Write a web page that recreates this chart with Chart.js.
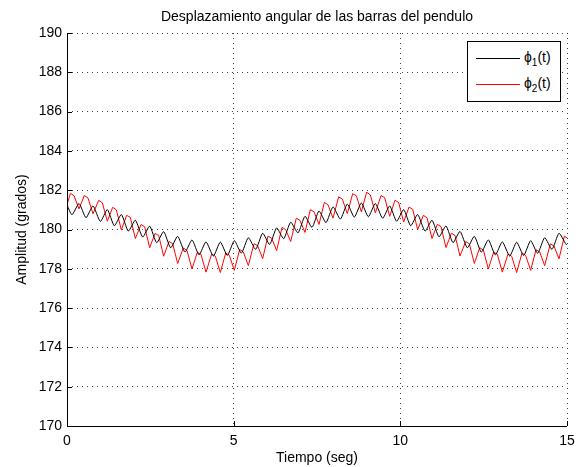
<!DOCTYPE html>
<html>
<head>
<meta charset="utf-8">
<script src="https://cdn.jsdelivr.net/npm/chart.js@4"></script>
<style>
  body { margin: 0; background: #fff; }
  #wrap { position: relative; width: 582px; height: 467px; }
  #legend { position: absolute; left: 467px; top: 41px; width: 92px; height: 59px;
            border: 1px solid #000; background: #fff;
            font: 14px "Liberation Sans", Arial, sans-serif; color: #000; }
  .row { position: absolute; left: 8px; height: 20px; display: flex; align-items: center; white-space: nowrap; }
  .row .ln { display: inline-block; width: 44px; border-top: 1px solid; margin-right: 4px; }
  sub { font-size: 10px; vertical-align: -4px; }
</style>
</head>
<body>
<div id="wrap">
  <canvas id="chart" width="582" height="467"></canvas>
  <div id="legend"></div>
</div>
<script>
// time (s) and angle (deg)
const t1 = [0, 0.15, 0.36, 0.57, 0.78, 1.00, 1.21, 1.42, 1.63, 1.84, 2.05, 2.27, 2.48, 2.69, 2.90,
  3.11, 3.32, 3.54, 3.75, 3.96, 4.17, 4.39, 4.60, 4.81, 5.02, 5.23, 5.44, 5.66, 5.87, 6.08, 6.29,
  6.50, 6.71, 6.93, 7.14, 7.35, 7.56, 7.77, 7.98, 8.20, 8.41, 8.62, 8.83, 9.04, 9.25, 9.47, 9.68,
  9.89, 10.10, 10.31, 10.52, 10.74, 10.95, 11.16, 11.37, 11.58, 11.79, 12.01, 12.22, 12.43, 12.64,
  12.85, 13.06, 13.28, 13.49, 13.70, 13.91, 14.12, 14.33, 14.55, 14.76, 14.97, 15.00];
const phi1 = [181.25, 180.75, 181.32, 180.60, 181.20, 180.41, 181.01, 180.19, 180.76, 179.92, 180.47,
  179.62, 180.17, 179.33, 179.89, 179.07, 179.65, 178.85, 179.47, 178.71, 179.37, 178.65, 179.36,
  178.68, 179.43, 178.80, 179.58, 178.99, 179.81, 179.24, 180.08, 179.53, 180.37, 179.83, 180.67,
  180.11, 180.94, 180.35, 181.15, 180.53, 181.29, 180.63, 181.35, 180.65, 181.32, 180.57, 181.20,
  180.42, 181.01, 180.19, 180.76, 179.92, 180.47, 179.63, 180.18, 179.33, 179.90, 179.07, 179.65,
  178.85, 179.47, 178.71, 179.37, 178.65, 179.35, 178.68, 179.43, 178.79, 179.58, 178.99, 179.81,
  179.24, 179.25];

const t2 = [0, 0.10, 0.21, 0.36, 0.52, 0.63, 0.78, 0.95, 1.06, 1.21, 1.37, 1.48, 1.63, 1.79, 1.90, 2.05,
  2.22, 2.33, 2.48, 2.64, 2.75, 2.90, 3.06, 3.17, 3.32, 3.49, 3.60, 3.75, 3.91, 4.02, 4.17,
  4.34, 4.45, 4.60, 4.76, 4.87, 5.02, 5.18, 5.29, 5.44, 5.61, 5.72, 5.87, 6.03, 6.14, 6.29,
  6.45, 6.56, 6.71, 6.88, 6.99, 7.14, 7.30, 7.41, 7.56, 7.72, 7.83, 7.98, 8.15, 8.26, 8.41,
  8.57, 8.68, 8.83, 8.99, 9.10, 9.25, 9.42, 9.53, 9.68, 9.84, 9.95, 10.10, 10.26, 10.37, 10.52,
  10.69, 10.80, 10.95, 11.11, 11.22, 11.37, 11.53, 11.64, 11.79, 11.96, 12.07, 12.22,
  12.38, 12.49, 12.64, 12.80, 12.91, 13.06, 13.23, 13.34, 13.49, 13.65, 13.76, 13.91,
  14.07, 14.18, 14.33, 14.50, 14.61, 14.76, 14.92, 15.00];
const phi2 = [181.25, 181.84, 181.72, 181.05, 181.73, 181.60, 180.80, 181.48, 181.36, 180.42,
  181.13, 181.00, 179.98, 180.72, 180.62, 179.54, 180.25, 180.14, 179.07, 179.80, 179.70, 178.64,
  179.39, 179.28, 178.27, 179.06, 178.93, 177.99, 178.84, 178.73, 177.83, 178.75, 178.64, 177.81,
  178.80, 178.69, 177.92, 178.98, 178.86, 178.16, 179.28, 179.17, 178.52, 179.67, 179.55, 178.93,
  180.11, 180.00, 179.39, 180.58, 180.46, 179.85, 181.01, 180.90, 180.26, 181.38, 181.26, 180.58,
  181.66, 181.55, 180.81, 181.82, 181.72, 180.90, 181.90, 181.76, 180.85, 181.73, 181.62, 180.67,
  181.49, 181.37, 180.38, 181.14, 181.03, 179.99, 180.72, 180.60, 179.54, 180.26, 180.15, 179.08,
  179.81, 179.70, 178.65, 179.39, 179.27, 178.27, 179.07, 178.96, 177.99, 178.85, 178.74, 177.83,
  178.75, 178.64, 177.81, 178.80, 178.68, 177.92, 178.97, 178.86, 178.16, 179.27, 179.16, 178.51,
  179.66, 179.58];

const xTicks = [0, 5, 10, 15];
const yTicks = [170, 172, 174, 176, 178, 180, 182, 184, 186, 188, 190];
const seriesNames = ['\u03d5<sub>1</sub>(t)', '\u03d5<sub>2</sub>(t)'];
const seriesColors = ['#000000', '#ff0000'];

const FONT = '"Liberation Sans", Arial, sans-serif';

// MATLAB-ish frame: solid left/bottom axes, inward ticks, title over the axes
const frame = {
  id: 'frame',
  afterDraw(chart) {
    const { ctx, chartArea: a, scales } = chart;
    ctx.save();
    ctx.strokeStyle = '#000';
    ctx.lineWidth = 1;
    ctx.beginPath();
    ctx.moveTo(a.left + 0.5, a.top);
    ctx.lineTo(a.left + 0.5, a.bottom + 0.5);
    ctx.lineTo(a.right, a.bottom + 0.5);
    yTicks.forEach(v => {
      const y = Math.round(scales.y.getPixelForValue(v)) + 0.5;
      ctx.moveTo(a.left, y);
      ctx.lineTo(a.left + 5, y);
    });
    xTicks.forEach(v => {
      const x = Math.round(scales.x.getPixelForValue(v)) + 0.5;
      ctx.moveTo(x, a.bottom);
      ctx.lineTo(x, a.bottom - 5);
    });
    ctx.stroke();
    ctx.fillStyle = '#000';
    ctx.font = '14px ' + FONT;
    ctx.textAlign = 'center';
    ctx.textBaseline = 'middle';
    ctx.fillText('Desplazamiento angular de las barras del pendulo', (a.left + a.right) / 2, 17);
    ctx.restore();
  }
};

const gridOpts = { color: 'rgba(0,0,0,0.75)', drawTicks: false, lineWidth: 1 };

new Chart(document.getElementById('chart'), {
  type: 'line',
  data: {
    datasets: [
      { label: 'phi1', data: t1.map((t, i) => ({ x: t, y: phi1[i] })),
        borderColor: seriesColors[0], borderWidth: 1, pointRadius: 0, tension: 0.2 },
      { label: 'phi2', data: t2.map((t, i) => ({ x: t, y: phi2[i] })),
        borderColor: seriesColors[1], borderWidth: 1, pointRadius: 0, tension: 0 }
    ]
  },
  options: {
    responsive: false,
    animation: false,
    layout: { padding: { top: 33, right: 15, left: 0, bottom: 0 } },
    plugins: { legend: { display: false }, title: { display: false }, tooltip: { enabled: false } },
    scales: {
      x: {
        type: 'linear', min: 0, max: 15,
        afterBuildTicks: s => { s.ticks = xTicks.map(v => ({ value: v })); },
        afterFit: s => { s.height = 41; },
        grid: gridOpts,
        border: { display: false, dash: [1, 4] },
        ticks: { color: '#000', font: { family: FONT, size: 14 }, padding: 7, maxRotation: 0 },
        title: { display: true, text: 'Tiempo (seg)', color: '#000', font: { family: FONT, size: 14 },
                 padding: { top: 0, bottom: 0 } }
      },
      y: {
        min: 170, max: 190,
        afterBuildTicks: s => { s.ticks = yTicks.map(v => ({ value: v })); },
        afterFit: s => { s.width = 67; },
        grid: gridOpts,
        border: { display: false, dash: [1, 4] },
        ticks: { color: '#000', font: { family: FONT, size: 14 }, padding: 5 },
        title: { display: true, text: 'Amplitud (grados)', color: '#000', font: { family: FONT, size: 14 },
                 padding: { top: 14, bottom: 0 } }
      }
    }
  },
  plugins: [frame]
});

// legend with subscripts, as in the original figure
const legend = document.getElementById('legend');
seriesNames.forEach((name, i) => {
  const row = document.createElement('div');
  row.className = 'row';
  row.style.top = (6 + i * 26) + 'px';
  row.innerHTML = '<span class="ln" style="border-color:' + seriesColors[i] + '"></span><span>' + name + '</span>';
  legend.appendChild(row);
});
</script>
</body>
</html>
